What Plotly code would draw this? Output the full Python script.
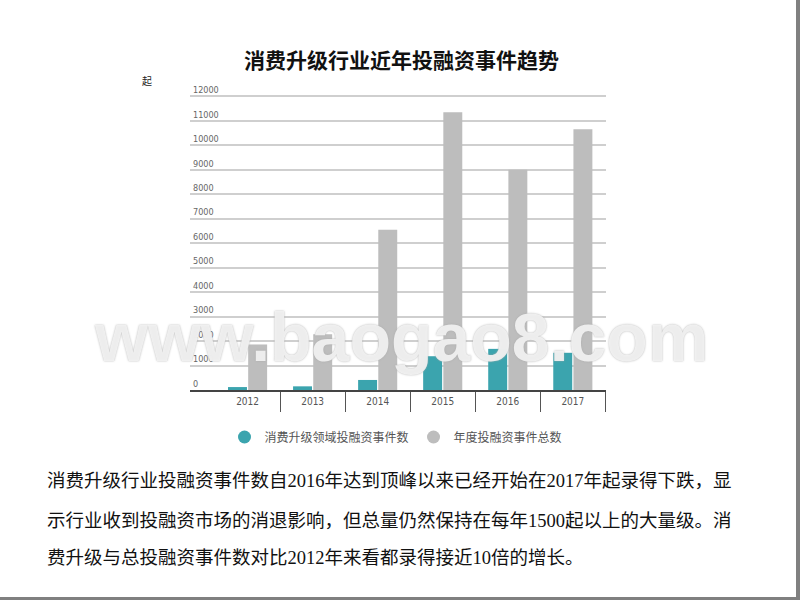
import plotly.graph_objects as go

years = ["2012", "2013", "2014", "2015", "2016", "2017"]
consumer_events = [120, 150, 410, 1380, 1680, 1520]
total_events = [1860, 2280, 6550, 11350, 9000, 10650]
series_names = ["消费升级领域投融资事件数", "年度投融资事件总数"]
title_text = "消费升级行业近年投融资事件趋势"
unit_text = "起"
paragraph_lines = [
    "消费升级行业投融资事件数自2016年达到顶峰以来已经开始在2017年起录得下跌，显",
    "示行业收到投融资市场的消退影响，但总量仍然保持在每年1500起以上的大量级。消",
    "费升级与总投融资事件数对比2012年来看都录得接近10倍的增长。",
]
watermark = "www.baogao8.com"

TEAL = "#3ba4ae"
GRAY = "#bdbdbd"
NARROW = "DejaVu Sans Condensed, Liberation Sans, sans-serif"

W, H = 800, 600
L, R, T, B = 190, 606, 84, 390  # plot area in pixels


def px(x):
    return (x - L) / (R - L)


def py(y):
    return (B - y) / (B - T)


fig = go.Figure()
fig.add_trace(go.Bar(x=years, y=consumer_events, name=series_names[0],
                     marker=dict(color=TEAL, line=dict(width=0)), showlegend=False))
fig.add_trace(go.Bar(x=years, y=total_events, name=series_names[1],
                     marker=dict(color=GRAY, line=dict(width=0)), showlegend=False))
for name, col in zip(series_names, [TEAL, GRAY]):
    fig.add_trace(go.Scatter(x=[None], y=[None], mode="markers", name=name,
                             marker=dict(symbol="circle", size=13, color=col)))

annotations = [
    dict(text=f"<b>{title_text}</b>", x=px(401), y=py(59), xref="paper", yref="paper",
         showarrow=False, xanchor="center", yanchor="middle",
         font=dict(family="Noto Sans CJK SC", size=21, color="#111")),
    dict(text=unit_text, x=px(140), y=py(80), xref="paper", yref="paper",
         showarrow=False, xanchor="left", yanchor="middle",
         font=dict(family="Noto Sans CJK SC", size=10, color="#222")),
    dict(text=watermark, x=px(401), y=py(337), xref="paper", yref="paper",
         showarrow=False, xanchor="center", yanchor="middle",
         font=dict(family="Liberation Sans, sans-serif", size=68,
                   color="rgba(244,244,244,0.9)",
                   weight="bold", shadow="0px 0px 2px #a8a8a8")),
]
for line, yy in zip(paragraph_lines, [481, 521, 558]):
    annotations.append(dict(text=line, x=px(45), y=py(yy), xref="paper", yref="paper",
                            showarrow=False, xanchor="left", yanchor="middle",
                            font=dict(family="Liberation Serif, Noto Sans CJK SC", size=18.5,
                                      color="#111")))

shapes = [
    dict(type="rect", xref="paper", yref="paper", x0=px(796), x1=px(801), y0=py(601), y1=py(-1),
         fillcolor="#808080", line=dict(width=0), layer="above"),
    dict(type="rect", xref="paper", yref="paper", x0=px(-1), x1=px(801), y0=py(601), y1=py(597),
         fillcolor="#808080", line=dict(width=0), layer="above"),
]

fig.update_layout(
    width=W, height=H,
    margin=dict(l=L, r=W - R, t=T, b=H - B, pad=0),
    paper_bgcolor="white", plot_bgcolor="white",
    barmode="group", bargap=0.38, bargroupgap=0.06,
    annotations=annotations, shapes=shapes,
    legend=dict(orientation="h", x=px(396), y=py(437), xanchor="center", yanchor="middle",
                font=dict(family="Noto Sans CJK SC", size=12, color="#555"),
                bgcolor="rgba(0,0,0,0)", itemwidth=30),
    xaxis=dict(type="category", range=[-0.885, 5.51], showgrid=False,
               showline=True, linecolor="#444", linewidth=2,
               ticks="outside", tickson="boundaries", ticklen=20, tickwidth=1, tickcolor="#555",
               ticklabelstandoff=1,
               tickfont=dict(family=NARROW, size=10, color="#555"),
               fixedrange=True),
    yaxis=dict(range=[0, 12500], dtick=1000, tick0=0, tickformat="d",
               showgrid=True, gridcolor="#cfcfcf",
               gridwidth=1.5, zeroline=False, showline=False, ticks="",
               ticklabelposition="inside top",
               tickfont=dict(family=NARROW, size=9, color="#666"),
               fixedrange=True),
)

fig.write_html("out.html", config={"displayModeBar": False},
               post_script="document.body.style.margin='0px';document.body.style.overflow='hidden';")
